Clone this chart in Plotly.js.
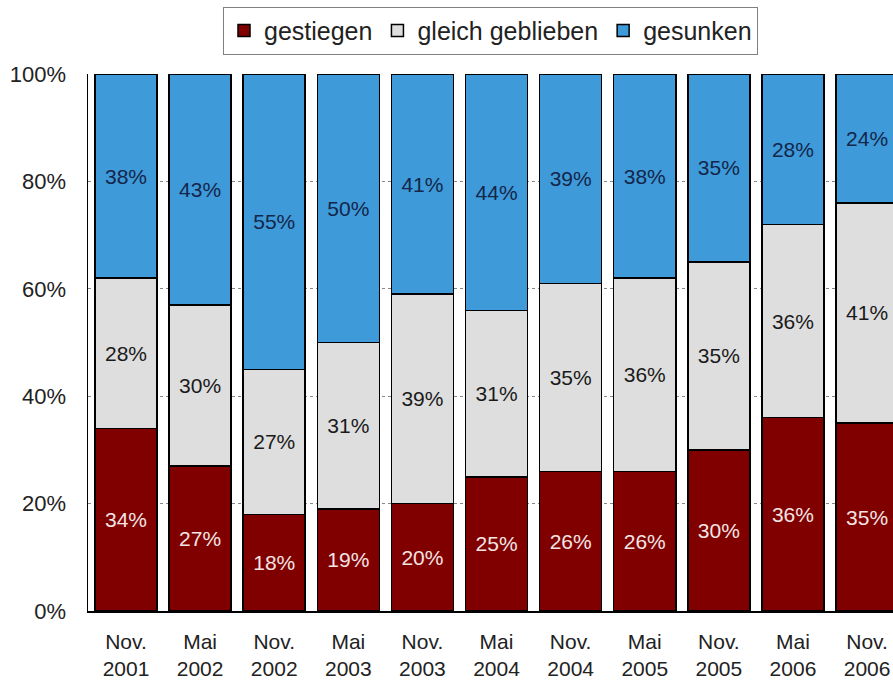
<!DOCTYPE html>
<html>
<head>
<meta charset="utf-8">
<script src="https://cdn.plot.ly/plotly-3.0.1.min.js"></script>
<style>html,body{margin:0;padding:0;background:#fff;}#chart{width:893px;height:681px;}</style>
</head>
<body>
<div id="chart"></div>
<script>
var categories = ["Nov.<br>2001","Mai<br>2002","Nov.<br>2002","Mai<br>2003","Nov.<br>2003","Mai<br>2004","Nov.<br>2004","Mai<br>2005","Nov.<br>2005","Mai<br>2006","Nov.<br>2006"];
var gestiegen = [34,27,18,19,20,25,26,26,30,36,35];
var gleichGeblieben = [28,30,27,31,39,31,35,36,35,36,41];
var gesunken = [38,43,55,50,41,44,39,38,35,28,24];
var seriesNames = ["gestiegen","gleich geblieben","gesunken"];

var FONT = "Liberation Sans, Arial, sans-serif";
function pct(a){ return a.map(function(v){ return v + "%"; }); }
function trace(name, vals, color, textColor){
  return {
    type: "bar", name: name, x: categories, y: vals,
    text: pct(vals), textposition: "inside", insidetextanchor: "middle",
    textangle: 0, constraintext: "none",
    textfont: {family: FONT, size: 21, color: textColor},
    marker: {color: color, line: {color: "#000", width: 1.5}},
    hoverinfo: "skip"
  };
}
var data = [
  trace(seriesNames[0], gestiegen, "#800000", "#f4e4e4"),
  trace(seriesNames[1], gleichGeblieben, "#dedede", "#1a1a1a"),
  trace(seriesNames[2], gesunken, "#3e9ad9", "#14264a")
];
var layout = {
  width: 893, height: 681,
  margin: {l: 88, r: 0, t: 74, b: 70},
  paper_bgcolor: "#fff", plot_bgcolor: "#fff",
  barmode: "stack", bargap: 0.163,
  font: {family: FONT, size: 21, color: "#222"},
  showlegend: true,
  legend: {
    orientation: "h", x: 0.5, xanchor: "center",
    yref: "container", y: 0.99, yanchor: "top",
    bordercolor: "#808080", borderwidth: 1, bgcolor: "#fff",
    font: {family: FONT, size: 25, color: "#222"},
    traceorder: "normal", itemclick: false
  },
  xaxis: {
    type: "category", range: [-0.513, 10.35],
    showline: true, linecolor: "#000", linewidth: 1.5,
    showgrid: false, ticks: "", ticklabelstandoff: 11,
    tickfont: {family: FONT, size: 21, color: "#222"},
    fixedrange: true
  },
  yaxis: {
    range: [0, 100], dtick: 20, ticksuffix: "%",
    showline: true, linecolor: "#000", linewidth: 1.5,
    showgrid: true, gridcolor: "#888", griddash: "dot", gridwidth: 1,
    zeroline: false, ticks: "", ticklabelstandoff: 16,
    tickfont: {family: FONT, size: 22, color: "#222"},
    fixedrange: true
  }
};
Plotly.newPlot("chart", data, layout, {displayModeBar: false, staticPlot: true});
</script>
</body>
</html>
